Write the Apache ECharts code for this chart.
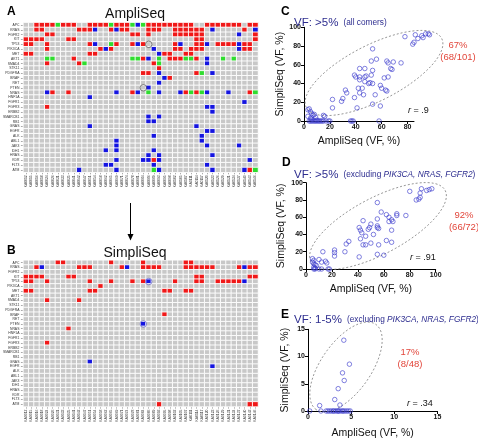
<!DOCTYPE html>
<html><head><meta charset="utf-8">
<script src="https://cdn.jsdelivr.net/npm/echarts@6/dist/echarts.min.js"></script>
<style>html,body{margin:0;padding:0;background:#fff}#c{width:478px;height:440px}</style>
</head><body><div id="c"></div>
<script>
const genes = ['APC','KRAS','FGFR2','KIT','TP53','PIK3CA','MET','AKT1','SMAD4','STK11','PDGFRA','BRAF','RET','PTEN','NRAS','HNF1A','FGFR1','FGFR3','ERBB2','SMARCB1','RB1','GNAS','EGFR','ALK','ABL1','JAK3','IDH1','HRAS','KDR','FLT3','ATM'];
const samples = ['KA0012','KA0015','KA0016','KA0018','KA0024','KA0026','KA0031','KA0033','KA0035','KA0041','KA0042','KA0047','KA0051','KA0054','KA0058','KA0062','KA0065','KA0069','KA0071','KA0074','KA0078','KA0081','KA0084','KA0086','KA0089','KA0093','KA0095','KA0098','KA0102','KA0105','KA0107','KA0111','KA0114','KA0117','KA0120','KA0123','KA0126','KA0129','KA0131','KA0134','KA0137','KA0140','KA0143','KA0146'];
// cell codes: . none, R = red, B = blue, G = green (groups of 4 columns)
const ampliRows = [
'..RR RRGR RR.. RRRR GRRR GBGR RRRR RRRR ..RR RRRR R.RR',
'..RR .... ..RR RB.. RBRR ...R RR.. RRRR RR.B .... .R.B',
'.... RR.. .... .... .... RR.R .... RRRR RR.. .... B..R',
'RRRR .... RR.. .... .... .... .... .... RR.. .... ...R',
'RR.. R... .... RB.. GR.. RBR. .... RB.. RRB. RRRR BRR.',
'.... R... .... ..RB R... .... B... RR.R RR.. .... BRR.',
'RR.. .... .... RR.. .... .... .BRR ..RR .... .... ....',
'.... GG.. .R.. .... .... GGRB .G.R RRGG R.B. .G.G ....',
'.... R... ..RG .... .... .... RG.. .... ..B. .... ....',
'.... .... .... .... .... .... .R.. .... .... .... ....',
'.... .... .... .... .... ..RR .B.. .... RG.B .... ....',
'.... .... .... .... .... .... ..BR .... .... .... ....',
'.... .... .... .... .... .... .B.. .... .... .... ....',
'.... .... .... .... .... ...B .... .... .... .... ....',
'.... BR.. R... .... .B.. RB.G .B.. .BRG RGB. ..B. ..RG',
'.... .... .... B... .... .... .... .... .... .... ....',
'.... .... .... .... .... .... .... .... .... .... .B..',
'.... R... .... .... .... .... .... .... ..BB .... ....',
'.... .... .... .... .... .... .... .... ...B .... ....',
'.... .... .... .... .... ...B .B.. .... .... .... ....',
'.... .... .... .... .... ...B B... .... .... .... ....',
'.... .... .... B... .... .... .... .... B... .... ....',
'.... .... .... .... .... .... .... .... ..BB .... ....',
'.... .... .... .... .... .... B... .... .B.. .... ....',
'.... .... .... .... .B.. .... .... .... .B.. .... ....',
'.... .... .... .... .B.. .... .... .... ..B. .... B...',
'.... .... .... ...B .B.. .... B... .... .... .... ....',
'.... .... .... .... .... ...B .B.. .... ...B .... ....',
'.... .... .... .... .B.. ..BB RB.. .... .... .... ..B.',
'.... .... .... ...B B... .... B... .... ..B. .... ....',
'.... .... ..B. .... .B.. .... GB.. .... ...B .... .BRG'
];
const simpliRows = [
'.... ..RR .... .... R... ..R. .... ..RR .... .... ....',
'..RB .... ..RR R... ..RB ..RR RR.. ..RR RRRR .... RBRR',
'.... .... .... .... .... .... .... .... .... .... ....',
'RRRR .... RR.. .... .... .... .... .... RR.. .... ..RR',
'RR.. R... .... R... R... R.RB .... R... RR.. RRRR RB..',
'.... .... .... ..R. .... .... .... .... .... .... ....',
'RR.. .... .... RR.. .... .... ..RR ..RR .... .... ....',
'.... .... .... .... .... .... .... .... .... .... ....',
'.... R... ..R. .... .... .... .... .... .... .... ....',
'.... .... .... .... .... .... .... .... .... .... ....',
'.... .... .... .... .... .... .... .... .... .... ....',
'.... .... .... .... .... .... ..R. .... .... .... ....',
'.... .... .... .... .... .... .... .... .... .... ....',
'.... .... .... .... .... ..B. .... .... .... .... ....',
'.... .... R... .... .... .... .... .... .... .... ....',
'.... .... .... .... .... .... .... .... .... .... ....',
'.... .... .... .... .... .... .... .... .... .... ....',
'.... R... .... .... .... .... .... .... .... .... ....',
'.... .... .... .... .... .... .... .... .... .... ....',
'.... .... .... .... .... .... .... .... .... .... ....',
'.... .... .... .... .... .... .... .... .... .... ....',
'.... .... .... B... .... .... .... .... .... .... ....',
'.... .... .... .... .... .... .... .... ...B .... ....',
'.... .... .... .... .... .... .... .... .... .... ....',
'.... .... .... .... .... .... .... .... .... .... ....',
'.... .... .... .... .... .... .... .... .... .... ....',
'.... .... .... .... .... .... .... .... .... .... ....',
'.... .... .... .... .... .... .... .... .... .... ....',
'.... .... .... .... .... .... .... .... .... .... ....',
'.... .... .... .... .... .... .... .... .... .... ....',
'.... .... .... .... .... .... .R.. .... .... .... ..RR'
];
// circled cells [column, row]
const ampliCircles = [[23,4],[22,13]];
const simpliCircles = [[23,4],[22,13]];

// scatter data [AmpliSeq VF, SimpliSeq VF]
const cPoints = [[78,90],[86,92],[88,88],[85,84],[84,82],[91,91],[94,93],[96,93],[92,89],[97,92],
[53,77],[56,66],[52,64],[64,64],[65,62],[69,63],[67,56],[68,55],[75,62],[43,56],[47,56],
[39,49],[40,47],[43,47],[47,47],[48,48],[52,49],[53,54],[43,44],[47,42],[50,40],[51,41],[53,40],
[42,35],[45,35],[43,30],[46,28],[59,38],[60,35],[63,33],[64,32],[62,46],[65,47],[32,33],[33,30],
[30,24],[29,21],[39,25],[22,23],[22,14],[41,14],[53,18],[59,16],[55,28],
[3,12],[4,13],[5,10],[6,8],[7,6],[8,7],[9,4],[15,6],[16,5],[3,5],[5,3],[6,2],[10,1],
[4,0],[5,0],[6,0],[7,0],[8,0],[9,0],[10,0],[11,0],[12,0],[13,0],[14,0],[15,0],[17,0],[19,0],[20,0],[36,0],[37,0],[38,0],[58,0]];
const dPoints = [[80,90],[88,88],[89,93],[93,91],[95,92],[97,93],[88,83],[87,81],[85,80],
[55,77],[58,66],[55,58],[62,63],[64,60],[70,64],[70,62],[77,62],[66,57],[64,55],[67,55],[66,45],
[41,48],[42,45],[44,56],[48,46],[49,48],[50,52],[55,50],[55,48],[56,47],[52,40],[43,42],[46,38],
[42,35],[44,28],[46,28],[50,30],[56,28],[62,33],[66,31],[33,32],[31,29],[30,20],[22,22],[22,19],
[22,15],[13,20],[41,14],[55,17],[60,16],[5,12],[6,10],[5,8],[6,6],[7,5],[8,4],[10,11],[12,8],
[15,9],[16,7],[6,2],[7,1],[6,0],[7,0],[10,0],[12,0],[17,0],[18,0]];
const ePoints = [[4.15,13],[4.8,8.6],[4.0,7.0],[4.2,5.6],[3.5,4.1],[3.1,2.1],[3.7,1.1],[1.35,1.0],
[0.2,0],[1.5,0],[2.1,0],[2.3,0],[2.5,0],[2.7,0],[2.9,0],[3.0,0],[3.2,0],[3.4,0],[3.5,0],[3.6,0],[3.8,0],[4.0,0],[4.1,0],[4.3,0],[4.5,0],[4.7,0],[4.9,0]];
const cTicks = [0,20,40,60,80];

const codeVal = {'.':0,'R':1,'B':2,'G':3};
function cells(rows){
  const out=[];
  rows.forEach((s,r)=>{ s.replace(/ /g,'').split('').forEach((ch,c)=>{ out.push([c,r,codeVal[ch]]); }); });
  return out;
}
const FONT = 'Liberation Sans';
const chart = echarts.init(document.getElementById('c'), null, {renderer:'canvas'});
const hmGrids = [
  {left:23, top:22.6, width:235, height:149.7},
  {left:23, top:260.3, width:235, height:146.3}
];
const scGrids = [
  {left:304, top:27.3, width:110, height:93.7},
  {left:306, top:182.7, width:129.7, height:86.3},
  {left:308, top:329.3, width:129.4, height:87.4}
];
const grids = hmGrids.concat(scGrids);
const xAxes = [], yAxes = [];
[0,1].forEach(i=>{
  xAxes.push({gridIndex:i, type:'category', data:samples, position:'bottom',
    axisLine:{show:false}, axisTick:{show:true, alignWithLabel:true, length:2, lineStyle:{color:'#555', width:0.5}},
    axisLabel:{rotate:90, fontSize:3.4, margin:3, interval:0, color:'#333', fontFamily:FONT}, splitLine:{show:false}});
  yAxes.push({gridIndex:i, type:'category', data:genes, inverse:true,
    axisLine:{show:false}, axisTick:{show:true, alignWithLabel:true, length:2.5, lineStyle:{color:'#555', width:0.5}},
    axisLabel:{fontSize:3.4, margin:4, interval:0, color:'#333', fontFamily:FONT}, splitLine:{show:false}});
});
const axisCommon = {
  axisLine:{show:true, lineStyle:{color:'#000', width:1}},
  splitLine:{show:false},
  nameLocation:'middle',
  nameTextStyle:{fontSize:10.5, color:'#111', fontFamily:FONT}
};
const tickStyle = {show:true, length:3, lineStyle:{color:'#000', width:1}};
const lblStyle = {fontSize:7, color:'#111', fontFamily:FONT, fontWeight:'bold'};
// C
xAxes.push(Object.assign({gridIndex:2, type:'value', min:0, max:85, name:'AmpliSeq (VF, %)', nameGap:15,
  axisTick:Object.assign({customValues:cTicks}, tickStyle),
  axisLabel:Object.assign({margin:3, customValues:cTicks}, lblStyle)}, axisCommon));
yAxes.push(Object.assign({gridIndex:2, type:'value', min:0, max:100, interval:20, name:'SimpliSeq (VF, %)', nameGap:17,
  axisTick:tickStyle, axisLabel:Object.assign({margin:3}, lblStyle)}, axisCommon));
// D
xAxes.push(Object.assign({gridIndex:3, type:'value', min:0, max:100, interval:20, name:'AmpliSeq (VF, %)', nameGap:15,
  axisTick:tickStyle, axisLabel:Object.assign({margin:3}, lblStyle)}, axisCommon));
yAxes.push(Object.assign({gridIndex:3, type:'value', min:0, max:100, interval:20, name:'SimpliSeq (VF, %)', nameGap:19,
  axisTick:tickStyle, axisLabel:Object.assign({margin:3}, lblStyle)}, axisCommon));
// E
xAxes.push(Object.assign({gridIndex:4, type:'value', min:0, max:15, interval:5, name:'AmpliSeq (VF, %)', nameGap:17,
  axisTick:tickStyle, axisLabel:Object.assign({margin:3}, lblStyle)}, axisCommon));
yAxes.push(Object.assign({gridIndex:4, type:'value', min:0, max:15, interval:5, name:'SimpliSeq (VF, %)', nameGap:17,
  axisTick:tickStyle, axisLabel:Object.assign({margin:3}, lblStyle)}, axisCommon));

const scatterStyle = {symbol:'circle', symbolSize:4.5, clip:false, itemStyle:{color:'rgba(0,0,0,0)', borderColor:'#3a3acc', borderWidth:0.8}, silent:true};
const series = [
  {type:'heatmap', xAxisIndex:0, yAxisIndex:0, data:cells(ampliRows), itemStyle:{borderColor:'#fff', borderWidth:0.9}, silent:true},
  {type:'heatmap', xAxisIndex:1, yAxisIndex:1, data:cells(simpliRows), itemStyle:{borderColor:'#fff', borderWidth:0.9}, silent:true},
  {type:'scatter', xAxisIndex:0, yAxisIndex:0, data:ampliCircles, symbol:'circle', symbolSize:6.5, itemStyle:{color:'rgba(0,0,0,0)', borderColor:'#444', borderWidth:0.8}, silent:true, z:5},
  {type:'scatter', xAxisIndex:1, yAxisIndex:1, data:simpliCircles, symbol:'circle', symbolSize:6.5, itemStyle:{color:'rgba(0,0,0,0)', borderColor:'#5a5ad0', borderWidth:0.8}, silent:true, z:5},
  Object.assign({type:'scatter', xAxisIndex:2, yAxisIndex:2, data:cPoints}, scatterStyle),
  Object.assign({type:'scatter', xAxisIndex:3, yAxisIndex:3, data:dPoints}, scatterStyle),
  Object.assign({type:'scatter', xAxisIndex:4, yAxisIndex:4, data:ePoints}, scatterStyle)
];
const navy = '#2d2d8f', redT = '#e2463b';
const richTitle = {
  a:{fontSize:11.5, color:navy, fontFamily:FONT, fontWeight:'normal'},
  b:{fontSize:8.3, color:navy, fontFamily:FONT, fontWeight:'normal'},
  i:{fontSize:8.3, color:navy, fontFamily:FONT, fontStyle:'italic', fontWeight:'normal'}
};
const plain = (size, color)=>({fontSize:size, color:color, fontWeight:'normal', fontFamily:FONT});
const rStyle = Object.assign(plain(9,'#111'), {rich:{r:{fontStyle:'italic', fontSize:9, color:'#111', fontFamily:FONT, fontWeight:'normal'}, n:plain(9,'#111')}});
const titles = [
  {text:'A', left:2, top:1, textStyle:{fontSize:12, fontWeight:'bold', color:'#000', fontFamily:FONT}},
  {text:'B', left:2, top:240, textStyle:{fontSize:12, fontWeight:'bold', color:'#000', fontFamily:FONT}},
  {text:'AmpliSeq', left:130, top:2, textAlign:'center', textStyle:plain(14,'#111')},
  {text:'SimpliSeq', left:130, top:241, textAlign:'center', textStyle:plain(14,'#111')},
  {text:'C', left:276, top:1, textStyle:{fontSize:12, fontWeight:'bold', color:'#000', fontFamily:FONT}},
  {text:'D', left:277, top:152, textStyle:{fontSize:12, fontWeight:'bold', color:'#000', fontFamily:FONT}},
  {text:'E', left:276, top:304, textStyle:{fontSize:12, fontWeight:'bold', color:'#000', fontFamily:FONT}},
  {text:'{a|VF: >5%} {b|(all comers)}', left:289, top:9, textStyle:{fontWeight:'normal', rich:richTitle}},
  {text:'{a|VF: >5%} {b|(excluding }{i|PIK3CA, NRAS, FGFR2}{b|)}', left:289, top:161, textStyle:{fontWeight:'normal', rich:richTitle}},
  {text:'{a|VF: 1-5%} {b|(excluding }{i|PIK3CA, NRAS, FGFR2}{b|)}', left:289, top:306, textStyle:{fontWeight:'normal', rich:richTitle}},
  {text:'67%', left:453, top:35, textAlign:'center', textStyle:plain(9.5, redT)},
  {text:'(68/101)', left:453, top:47, textAlign:'center', textStyle:plain(9.5, redT)},
  {text:'92%', left:459, top:205, textAlign:'center', textStyle:plain(9.5, redT)},
  {text:'(66/72)', left:459, top:217, textAlign:'center', textStyle:plain(9.5, redT)},
  {text:'17%', left:405, top:342, textAlign:'center', textStyle:plain(9.5, redT)},
  {text:'(8/48)', left:405, top:354, textAlign:'center', textStyle:plain(9.5, redT)},
  {text:'{r|r}{n| = .9}', left:403, top:101, textStyle:rStyle},
  {text:'{r|r}{n| = .91}', left:405, top:248, textStyle:rStyle},
  {text:'{r|r}{n| = .34}', left:402, top:394, textStyle:rStyle}
];
const ell = (x,y,a,b,deg)=>({type:'ellipse', x:x, y:y, rotation:deg*Math.PI/180, shape:{cx:0, cy:0, rx:a, ry:b},
  style:{fill:'none', stroke:'#8a8a8a', lineWidth:0.8, lineDash:[2,2]}, silent:true, z:1});
const graphic = [
  ell(374,73,76,28,27),
  ell(378,226,76,28,28),
  ell(346,367,52,25,55),
  {type:'line', shape:{x1:130.5, y1:203, x2:130.5, y2:236}, style:{stroke:'#000', lineWidth:1}},
  {type:'polygon', shape:{points:[[127.5,234],[133.5,234],[130.5,240.5]]}, style:{fill:'#000'}}
];
chart.setOption({
  animation:false,
  backgroundColor:'#fff',
  title:titles,
  grid:grids,
  xAxis:xAxes,
  yAxis:yAxes,
  visualMap:{show:false, type:'piecewise', seriesIndex:[0,1], dimension:2,
    pieces:[{value:0,color:'#c8c8c8'},{value:1,color:'#f01818'},{value:2,color:'#1414e0'},{value:3,color:'#2fdc2f'}]},
  series:series,
  graphic:graphic
});
</script></body></html>
